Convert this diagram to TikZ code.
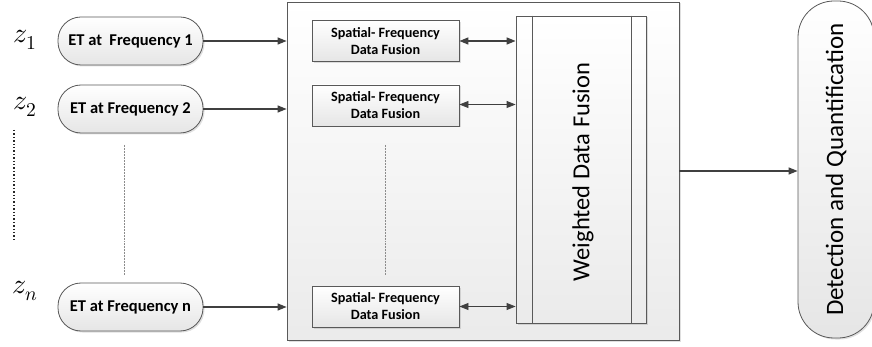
\documentclass[tikz,border=0pt]{standalone}
\usepackage{fontspec}
\usepackage{unicode-math}
\setmainfont{Carlito}
\setmathfont{Latin Modern Math}
\usetikzlibrary{arrows.meta,shadows}

\begin{document}
\begin{tikzpicture}[x=1pt,y=-1pt,
  arrow/.style={-{Triangle[length=9pt,width=7pt]}, line width=1.3pt, black!75},
  twoway/.style={{Triangle[length=9pt,width=7pt]}-{Triangle[length=9pt,width=7pt]}, line width=#1, black!75},
  shade/.style={top color=white, bottom color=black!10, draw=black!65, line width=.8pt,
    drop shadow={opacity=.25, shadow xshift=1.5pt, shadow yshift=-1.5pt}},
  etbox/.style={shade, rounded corners=23pt, minimum width=145pt, minimum height=48pt,
    font=\fontsize{16.5}{19}\selectfont\bfseries},
  sfbox/.style={shade, minimum width=147pt, minimum height=41pt, align=center,
    font=\fontsize{14.2}{17}\selectfont\bfseries},
  zlabel/.style={font=\fontsize{28}{32}\selectfont}]
\useasboundingbox (0,0) rectangle (872,347);

% container
\node[shade, minimum width=392pt, minimum height=338pt, bottom color=black!8] (box) at (483,171) {};

% weighted fusion
\node[shade, minimum width=130pt, minimum height=307pt, bottom color=black!8] (wdf) at (581,169.5) {};
\draw[black!65, line width=.8pt] ([xshift=17pt]wdf.north west) -- ([xshift=17pt]wdf.south west);
\draw[black!65, line width=.8pt] ([xshift=-15pt]wdf.north east) -- ([xshift=-15pt]wdf.south east);
\node[rotate=90, font=\fontsize{24.5}{28}\selectfont] (wdftext) at (583,172) {Weighted Data Fusion};

% inputs
\node[etbox] (et1) at (130.5,41) {ET at~ Frequency 1};
\node[etbox] (et2) at (130.5,109) {ET at Frequency 2};
\node[etbox] (etn) at (130.5,307) {ET at Frequency n};

\node[zlabel] (z1) at (25,40) {$z_1$};
\node[zlabel] (z2) at (25,107) {$z_2$};
\node[zlabel] (zn) at (25,291) {$z_n$};

% spatial-frequency fusion
\node[sfbox] (sf1) at (385.5,41) {Spatial- Frequency\\Data Fusion};
\node[sfbox] (sf2) at (385.5,105.5) {Spatial- Frequency\\Data Fusion};
\node[sfbox] (sfn) at (385.5,306.5) {Spatial- Frequency\\Data Fusion};

% output
\node[shade, rounded corners=36pt, minimum width=337pt, minimum height=76pt,
  rotate=90, font=\fontsize{25}{29}\selectfont] (dq) at (836,169.5) {Detection and Quantification};

% dots
\draw[line width=1.4pt, dotted, black!85] (14,130) -- (14,240);
\draw[line width=.5pt, densely dotted, black!45] (124,145) -- (124,275);
\draw[line width=.5pt, densely dotted, black!45] (385,145) -- (385,275);

% connectors
\draw[arrow] (et1.east) -- (et1.east -| box.west);
\draw[arrow] (et2.east) -- (et2.east -| box.west);
\draw[arrow] (etn.east) -- (etn.east -| box.west);
\draw[twoway=1.5pt] (sf1.east) -- (sf1.east -| wdf.west);
\draw[twoway=.8pt] ([yshift=1pt]sf2.east) -- ([yshift=1pt]sf2.east -| wdf.west);
\draw[twoway=.8pt] (sfn.east) -- (sfn.east -| wdf.west);
\draw[arrow] (box.east) -- (box.east -| dq.north);
\end{tikzpicture}
\end{document}
